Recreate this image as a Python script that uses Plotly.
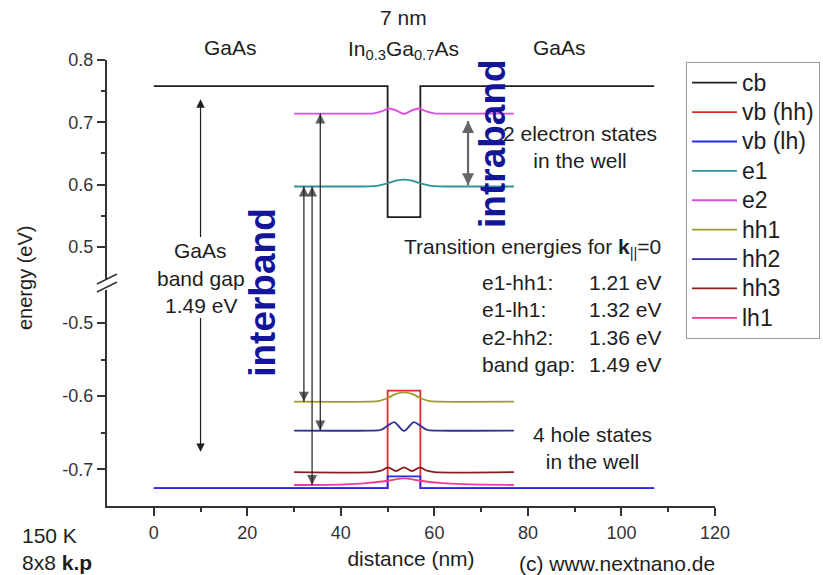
import plotly.graph_objects as go

# ---------------- data ----------------
# band edges (distance in nm, energy in eV)
cb_x = [0, 50, 50, 57, 57, 107]
cb_y = [0.758, 0.758, 0.548, 0.548, 0.758, 0.758]

vbhh_x = [0, 50, 50, 57, 57, 107]
vbhh_y = [-0.7255, -0.7255, -0.5925, -0.5925, -0.7255, -0.7255]

vblh_x = [0, 50, 50, 57, 57, 107]
vblh_y = [-0.7255, -0.7255, -0.7095, -0.7095, -0.7255, -0.7255]

# confined states (energy level + |psi|^2)
e1_x = [30, 44, 46, 48, 50, 51.8, 53.5, 55.2, 57, 59, 61, 63, 77]
e1_y = [0.597, 0.597, 0.5972, 0.5985, 0.602, 0.6065, 0.6082, 0.6065, 0.602, 0.5985, 0.5972, 0.597, 0.597]

e2_x = [30, 45, 47, 48.7, 50.3, 52, 53.5, 55, 56.7, 58.3, 60, 62, 77]
e2_y = [0.714, 0.714, 0.7143, 0.7175, 0.7222, 0.7185, 0.7135, 0.7185, 0.7222, 0.7175, 0.7143, 0.714, 0.714]

hh1_x = [30, 46, 48, 50, 51.8, 53.5, 55.2, 57, 59, 61, 77]
hh1_y = [-0.6075, -0.6075, -0.6068, -0.6025, -0.5968, -0.5948, -0.5968, -0.6025, -0.6068, -0.6075, -0.6075]

hh2_x = [30, 46.5, 48.5, 50, 51.4, 53.5, 55.6, 57, 58.5, 60.5, 77]
hh2_y = [-0.647, -0.647, -0.6462, -0.6405, -0.6355, -0.6475, -0.6355, -0.6405, -0.6462, -0.647, -0.647]

hh3_x = [30, 47, 48.6, 50.1, 51.8, 53.5, 55.2, 56.9, 58.4, 60, 77]
hh3_y = [-0.7037, -0.7037, -0.7018, -0.6972, -0.7022, -0.6972, -0.7022, -0.6972, -0.7018, -0.7037, -0.7037]

lh1_x = [30, 37, 42, 46, 50, 53.5, 57, 61, 65, 70, 77]
lh1_y = [-0.7213, -0.7211, -0.7202, -0.7185, -0.7155, -0.7122, -0.7155, -0.7185, -0.7198, -0.7207, -0.7213]

series_names = ["cb", "vb (hh)", "vb (lh)", "e1", "e2", "hh1", "hh2", "hh3", "lh1"]
series_x = [cb_x, vbhh_x, vblh_x, e1_x, e2_x, hh1_x, hh2_x, hh3_x, lh1_x]
series_y = [cb_y, vbhh_y, vblh_y, e1_y, e2_y, hh1_y, hh2_y, hh3_y, lh1_y]
series_axis = ["y2", "y", "y", "y2", "y2", "y", "y", "y", "y"]
series_shape = ["linear", "linear", "linear", "spline", "spline", "spline", "spline", "spline", "spline"]
series_color = ["#1e1e1e", "#e42a2a", "#2b2be6", "#2e9494", "#e04ae0",
                "#9c9c2c", "#2e2e9c", "#8c1e1e", "#f23a95"]

# arrows (x position in nm, energies in eV)
gap_arrow_x = 10
gap_arrow_up_head = 0.737
gap_arrow_down_head = -0.676
inter_x = [32.1, 33.85, 35.6]
inter_top = [e1_y[0], e1_y[0], e2_y[0]]          # e1, e1, e2
inter_bottom = [hh1_y[0], lh1_y[0], hh2_y[0]]    # hh1, lh1, hh2
intra_x = 67.2
intra_top = 0.702
intra_bottom = 0.599

# axis ticks
x_ticks = [0, 20, 40, 60, 80, 100, 120]
upper_ticks = [0.5, 0.6, 0.7, 0.8]
lower_ticks = [-0.7, -0.6, -0.5]

# transition table
trans_labels = ["e1-hh1:", "e1-lh1:", "e2-hh2:", "band gap:"]
trans_values = ["1.21 eV", "1.32 eV", "1.36 eV", "1.49 eV"]

# ---------------- layout geometry ----------------
W, H = 823, 575
ML, MR, MT, MB = 107, 108, 60, 69
PH = H - MT - MB
X_RANGE = [-10, 120]
UP_RANGE = [0.447, 0.8]
LO_RANGE = [-0.75, -0.455]
UP_DOM = [0.5067, 1.0]
LO_DOM = [0.0, 0.4843]
GAP_DOM = [LO_DOM[1], UP_DOM[0]]

FONT = "Liberation Sans, Arial, Helvetica, sans-serif"
TXT = "#1e1e1e"
ARROW = "#1e1e1e"

fig = go.Figure()
for name, xs, ys, ax, shp, col in zip(series_names, series_x, series_y, series_axis,
                                      series_shape, series_color):
    fig.add_trace(go.Scatter(
        x=xs, y=ys, name='<span style="font-size:23px">' + name + '</span>',
        mode="lines", yaxis=ax,
        line=dict(color=col, width=1.8, shape=shp, smoothing=0.8),
        hoverinfo="skip"))

# interband arrows: upper part (head at electron state), gap connector, lower part (head at hole state)
ux, uy, us, usym = [], [], [], []
lx, ly, ls, lsym = [], [], [], []
gx, gy = [], []
for xv, yt, yb in zip(inter_x, inter_top, inter_bottom):
    ux += [xv, xv, None]; uy += [yt, UP_RANGE[0], None]
    us += [10, 0, 0]; usym += ["arrow-up", "circle", "circle"]
    lx += [xv, xv, None]; ly += [LO_RANGE[1], yb, None]
    ls += [0, 10, 0]; lsym += ["circle", "arrow-down", "circle"]
    gx += [xv, xv, None]; gy += [0, 1, None]

fig.add_trace(go.Scatter(x=ux, y=uy, yaxis="y2", mode="lines+markers", showlegend=False,
                         line=dict(color=ARROW, width=1.2),
                         marker=dict(size=us, symbol=usym, color=ARROW, line=dict(width=0)),
                         hoverinfo="skip"))
fig.add_trace(go.Scatter(x=gx, y=gy, yaxis="y3", mode="lines", showlegend=False,
                         line=dict(color=ARROW, width=1.2), hoverinfo="skip"))
fig.add_trace(go.Scatter(x=lx, y=ly, yaxis="y", mode="lines+markers", showlegend=False,
                         line=dict(color=ARROW, width=1.2),
                         marker=dict(size=ls, symbol=lsym, color=ARROW, line=dict(width=0)),
                         hoverinfo="skip"))

# intraband arrow
fig.add_trace(go.Scatter(x=[intra_x, intra_x], y=[intra_top, intra_bottom], yaxis="y2",
                         mode="lines+markers", showlegend=False,
                         line=dict(color="#666666", width=2.2),
                         marker=dict(size=12, symbol=["arrow-up", "arrow-down"], color="#666666",
                                     line=dict(width=0)),
                         hoverinfo="skip"))

ann = []

def paper_y(px):
    return (H - MB - px) / PH

def paper_x(px):
    return (px - ML) / (W - ML - MR)

def text(t, x, y, xref="x", yref="paper", size=21, xanchor="center", yanchor="middle",
         align="center", color=TXT, angle=0):
    ann.append(dict(text=t, x=x, y=y, xref=xref, yref=yref, showarrow=False,
                    font=dict(size=size, color=color, family=FONT),
                    xanchor=xanchor, yanchor=yanchor, align=align, textangle=angle))

# header labels
text("GaAs", 16.3, paper_y(48))
text("GaAs", 86.7, paper_y(48))
text("7 nm", 53.5, paper_y(18))
text("In<sub>0.3</sub>Ga<sub>0.7</sub>As", 53.5, paper_y(50))

# band gap label with its two arrows (arrows start at the text)
ann.append(dict(text="GaAs", x=gap_arrow_x, y=gap_arrow_up_head, xref="x", yref="y2",
                ax=gap_arrow_x, ay=0.8 - (250 - MT) / (PH * (1 - UP_DOM[0])) * (UP_RANGE[1] - UP_RANGE[0]),
                axref="x", ayref="y2", showarrow=True, arrowhead=2, arrowsize=1.4,
                arrowwidth=1.2, arrowcolor=ARROW, font=dict(size=21, color=TXT, family=FONT)))
text("band gap", gap_arrow_x, paper_y(278))
ann.append(dict(text="1.49 eV", x=gap_arrow_x, y=gap_arrow_down_head, xref="x", yref="y",
                ax=gap_arrow_x,
                ay=LO_RANGE[1] - (305 - (MT + PH * (1 - LO_DOM[1]))) / (PH * LO_DOM[1]) * (LO_RANGE[1] - LO_RANGE[0]),
                axref="x", ayref="y", showarrow=True, arrowhead=2, arrowsize=1.4,
                arrowwidth=1.2, arrowcolor=ARROW, font=dict(size=21, color=TXT, family=FONT)))

text("2 electron states<br>in the well", 91.1, paper_y(147))
text("Transition energies for <b>k</b><sub>||</sub>=0", 108.9, paper_y(248), xanchor="right")
text("<br>".join(trans_labels), 69.7, paper_y(323), xanchor="left", align="left")
text("<br>".join(trans_values), 108.9, paper_y(323), xanchor="right", align="right")
text("4 hole states<br>in the well", 93.9, paper_y(448))

text("<b>intraband</b>", 72.3, paper_y(143), size=37, color="#15159a", angle=-90)
text("<b>interband</b>", 23.1, paper_y(292), size=37, color="#15159a", angle=-90)

# corner notes
text("150 K<br>8x8 <b>k.p</b>", paper_x(20), paper_y(549), xref="paper", xanchor="left", align="left")
text("(c) www.nextnano.de", paper_x(517), paper_y(563), xref="paper", xanchor="left")
text("energy (eV)", paper_x(25), paper_y(278), xref="paper", size=20, angle=-90)

# axis break marks
shapes = []
for y0px in (284, 292):
    shapes.append(dict(type="line", xref="paper", yref="paper",
                       x0=paper_x(97), y0=paper_y(y0px), x1=paper_x(117), y1=paper_y(y0px - 10),
                       line=dict(color="#333333", width=1.5)))

axis_common = dict(showline=True, linecolor="#333333", linewidth=2, ticks="outside",
                   ticklen=8, tickwidth=1.5, tickcolor="#333333", showgrid=False,
                   zeroline=False, tickfont=dict(size=18, color="#333333", family=FONT))

fig.update_layout(
    width=W, height=H,
    margin=dict(l=ML, r=MR, t=MT, b=MB, autoexpand=False),
    paper_bgcolor="white", plot_bgcolor="white",
    font=dict(family=FONT, color=TXT),
    xaxis=dict(range=X_RANGE, tickvals=x_ticks, ticktext=[str(v) for v in x_ticks], anchor="y",
               minor=dict(ticks="outside", ticklen=4, tickwidth=1.5, tickcolor="#333333",
                          tickvals=[10, 30, 50, 70, 90, 110]),
               title=dict(text="distance (nm)", font=dict(size=21, color=TXT), standoff=10),
               ticklabelstandoff=1,
               **axis_common),
    yaxis=dict(range=LO_RANGE, domain=LO_DOM, tickvals=lower_ticks,
               ticktext=[f"{v:.1f}" for v in lower_ticks], anchor="x",
               minor=dict(ticks="outside", ticklen=4, tickwidth=1.5, tickcolor="#333333",
                          tickvals=[-0.65, -0.55]),
               **axis_common),
    yaxis2=dict(range=UP_RANGE, domain=UP_DOM, tickvals=upper_ticks,
                ticktext=[f"{v:.1f}" for v in upper_ticks], anchor="x",
                minor=dict(ticks="outside", ticklen=4, tickwidth=1.5, tickcolor="#333333",
                           tickvals=[0.55, 0.65, 0.75]),
                **axis_common),
    yaxis3=dict(range=[0, 1], domain=GAP_DOM, anchor="x", visible=False, fixedrange=True),
    legend=dict(x=paper_x(686), y=paper_y(62), xanchor="left", yanchor="top",
                bgcolor="white", bordercolor="#999999", borderwidth=1, itemwidth=45,
                font=dict(size=20.3, color=TXT, family=FONT), traceorder="normal"),
    annotations=ann,
    shapes=shapes,
    showlegend=True,
)

fig.write_html("out.html")
